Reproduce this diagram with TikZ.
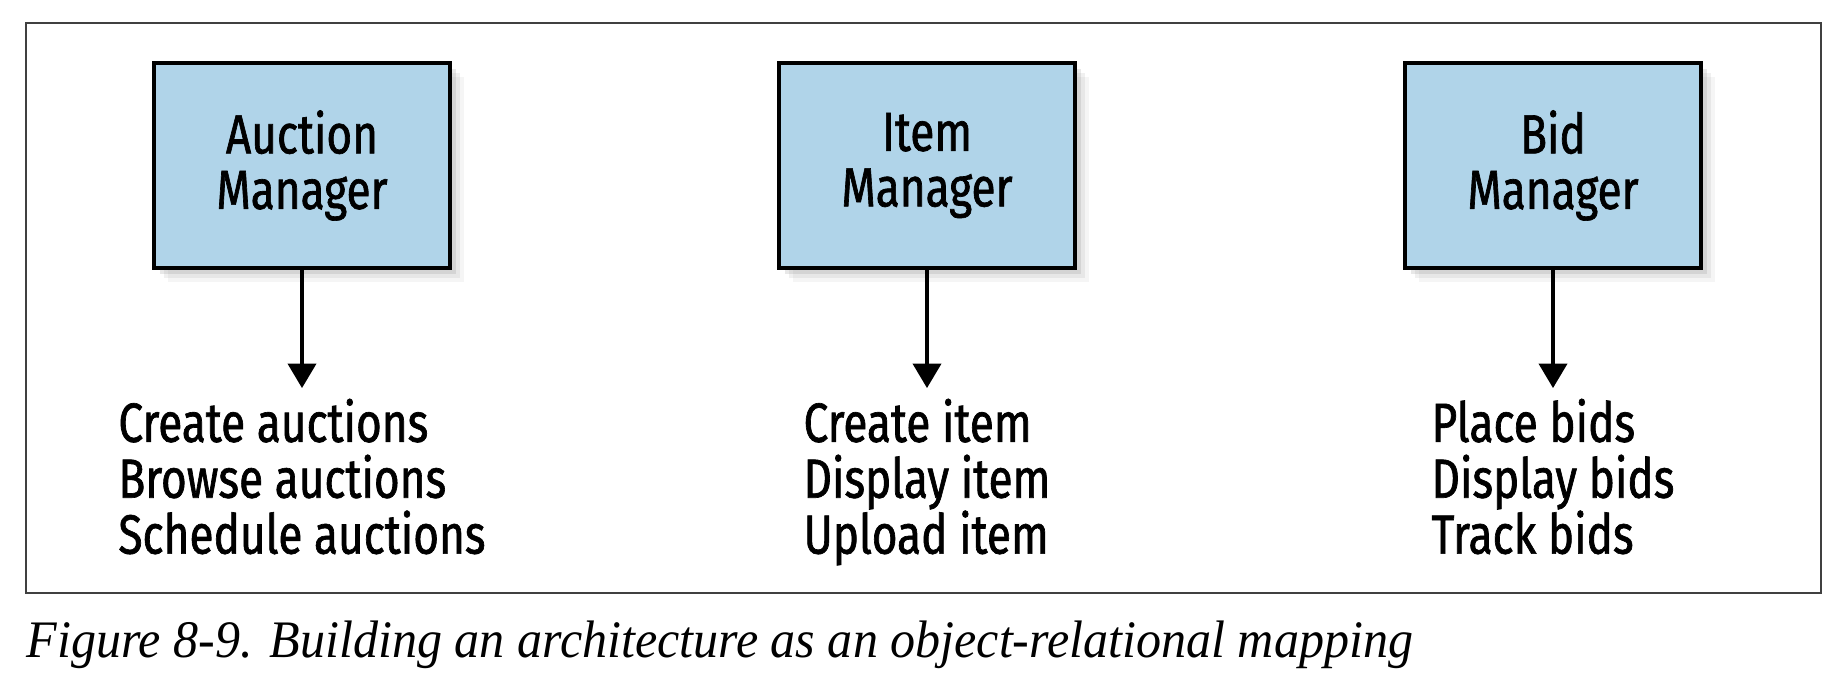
\documentclass[tikz,border=0pt]{standalone}
\usepackage{fontspec}
\setmainfont{Liberation Serif}
\newfontfamily\diagfont[FakeStretch=0.8,FakeBold=1.2]{Fira Sans}
\newfontfamily\capfont[FakeStretch=0.95]{Liberation Serif}
\usetikzlibrary{positioning,shadows,arrows.meta}
\definecolor{mgrblue}{RGB}{176,212,233}

\begin{document}
\begin{tikzpicture}[
  mgr/.style={draw=black, line width=1.2pt, fill=mgrblue, minimum width=2.96cm, minimum height=2.05cm,
    align=center, font=\diagfont\fontsize{15.7}{15.8}\selectfont,
    drop shadow={shadow xshift=1.4mm, shadow yshift=-1.4mm, opacity=0.08},
    drop shadow={shadow xshift=1.0mm, shadow yshift=-1.0mm, opacity=0.12},
    drop shadow={shadow xshift=0.6mm, shadow yshift=-0.6mm, opacity=0.18}},
  tasks/.style={align=left, inner sep=0pt, font=\diagfont\fontsize{15.7}{15.9}\selectfont},
  arr/.style={-{Triangle[width=8pt,length=7pt]}, line width=1.1pt}
]
\useasboundingbox (0,0) rectangle (18.42,6.90);
\draw[line width=0.5pt, black!75] (0.26,0.97) rectangle (18.21,6.67);

% the three managers
\node[mgr] (auction) at (3.02,5.245) {Auction\\Manager};
\node[mgr] (item) at (9.27,5.245) {Item\\Manager};
\node[mgr] (bid) at (15.53,5.245) {Bid\\Manager};

% what each one does
\node[tasks, below=1.28cm of auction] (auctionjobs) {Create auctions\\Browse auctions\\Schedule auctions};
\node[tasks, below=1.28cm of item] (itemjobs) {Create item\\Display item\\Upload item};
\node[tasks, below=1.28cm of bid] (bidjobs) {Place bids\\Display bids\\Track bids};

\draw[arr, shorten >=1mm] (auction) -- (auctionjobs);
\draw[arr, shorten >=1mm] (item) -- (itemjobs);
\draw[arr, shorten >=1mm] (bid) -- (bidjobs);

\node[anchor=base west, inner sep=0pt, font=\capfont\itshape\fontsize{15}{18}\selectfont] (caption) at (0.26,0.32)
  {Figure 8-9. Building an architecture as an object-relational mapping};
\end{tikzpicture}
\end{document}
